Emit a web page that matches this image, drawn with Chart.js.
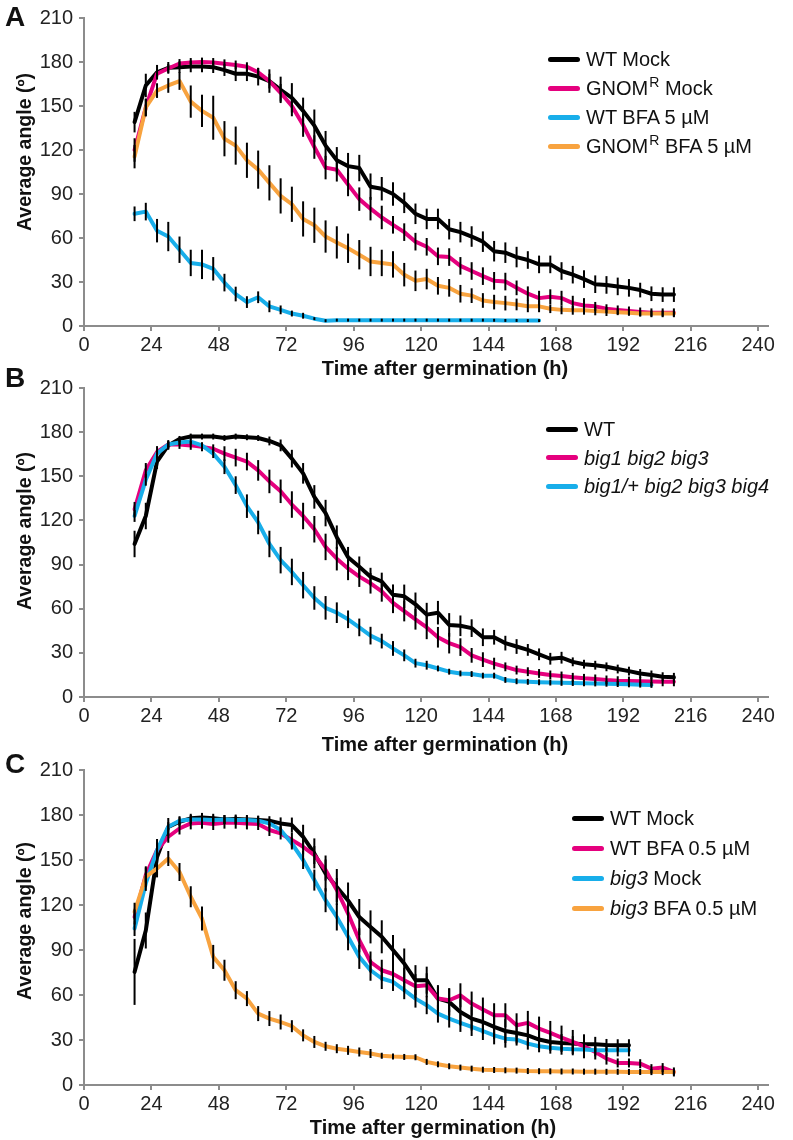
<!DOCTYPE html>
<html>
<head>
<meta charset="utf-8">
<script src="https://cdn.jsdelivr.net/npm/chart.js@4"></script>
<style>
body { margin: 0; background: #fff; font-family: "Liberation Sans", Arial, sans-serif; color: #111; }
#wrap { position: relative; width: 793px; height: 1140px; overflow: hidden; }
canvas { position: absolute; left: 0; }
.letter { position: absolute; font-weight: bold; font-size: 28px; transform: translate(-50%, -50%); }
.ytitle { position: absolute; font-weight: bold; font-size: 19.5px; white-space: nowrap; transform: translate(-50%, -50%) rotate(-90deg); }
.xtitle { position: absolute; font-weight: bold; font-size: 20px; white-space: nowrap; transform: translate(-50%, -50%); }
.legend { position: absolute; font-size: 20px; white-space: nowrap; }
.legend .row { display: flex; align-items: center; }
.legend .sw { display: inline-block; width: 32px; height: 5px; border-radius: 3px; margin-right: 6px; }
.legend sup { font-size: 14px; line-height: 0; vertical-align: baseline; position: relative; top: -7px; margin-left: 1px; }
</style>
</head>
<body>
<div id="wrap">
  <canvas id="chartA" width="793" height="370" style="top:0"></canvas>
  <canvas id="chartB" width="793" height="370" style="top:370px"></canvas>
  <canvas id="chartC" width="793" height="400" style="top:740px"></canvas>

  <div class="letter" style="left:15px;top:17px">A</div>
  <div class="letter" style="left:15px;top:378px">B</div>
  <div class="letter" style="left:15px;top:764px">C</div>

  <div class="ytitle" style="left:24px;top:152px">Average angle (º)</div>
  <div class="ytitle" style="left:24px;top:531px">Average angle (º)</div>
  <div class="ytitle" style="left:24px;top:921px">Average angle (º)</div>

  <div class="xtitle" style="left:445px;top:368px">Time after germination (h)</div>
  <div class="xtitle" style="left:445px;top:744px">Time after germination (h)</div>
  <div class="xtitle" style="left:433px;top:1127px">Time after germination (h)</div>

  <div class="legend" style="left:548px;top:45px;line-height:29px">
    <div class="row"><span class="sw" style="background:#000"></span>WT Mock</div>
    <div class="row"><span class="sw" style="background:#E5007E"></span>GNOM<sup>R</sup>&nbsp;Mock</div>
    <div class="row"><span class="sw" style="background:#18AEEA"></span>WT BFA 5 µM</div>
    <div class="row"><span class="sw" style="background:#F8A33F"></span>GNOM<sup>R</sup>&nbsp;BFA 5 µM</div>
  </div>
  <div class="legend" style="left:546px;top:415px;line-height:28.5px">
    <div class="row"><span class="sw" style="background:#000"></span>WT</div>
    <div class="row"><span class="sw" style="background:#E5007E"></span><i>big1 big2 big3</i></div>
    <div class="row"><span class="sw" style="background:#18AEEA"></span><i>big1/+ big2 big3 big4</i></div>
  </div>
  <div class="legend" style="left:572px;top:803px;line-height:30px">
    <div class="row"><span class="sw" style="background:#000"></span>WT Mock</div>
    <div class="row"><span class="sw" style="background:#E5007E"></span>WT BFA 0.5 µM</div>
    <div class="row"><span class="sw" style="background:#18AEEA"></span><i>big3</i>&nbsp;Mock</div>
    <div class="row"><span class="sw" style="background:#F8A33F"></span><i>big3</i>&nbsp;BFA 0.5 µM</div>
  </div>
</div>

<script>
// axis ticks
const xTickValues = [0, 24, 48, 72, 96, 120, 144, 168, 192, 216, 240];
const yTickValues = [0, 30, 60, 90, 120, 150, 180, 210];

// time points (h after germination)
const hours = [18, 22, 26, 30, 34, 38, 42, 46, 50, 54, 58, 62, 66, 70, 74, 78, 82, 86, 90, 94,
  98, 102, 106, 110, 114, 118, 122, 126, 130, 134, 138, 142, 146, 150, 154, 158, 162, 166, 170, 174,
  178, 182, 186, 190, 194, 198, 202, 206, 210];

// Panel A
const aWtMock = [139, 164, 173, 176, 176.5, 177, 177, 176.5, 174.5, 172, 172, 170, 167, 161, 155.6, 146.7, 136.6, 123, 113, 109,
  107.7, 95, 93.6, 90, 84, 76.5, 73, 73, 66, 64, 61, 57.5, 51, 50, 47, 45, 42, 42, 37.5, 35,
  32, 28.5, 28, 27, 26, 24.5, 22, 21.4, 21.4];
const aGnomMock = [120, 149, 172, 175.6, 179, 179.7, 180, 179.7, 178.8, 178, 176.8, 173, 167, 159, 150, 137, 122, 108, 106.5, 96.5,
  86.5, 80, 74, 69, 64, 57.5, 54, 47.5, 47, 41, 37.5, 34, 30.8, 30.3, 26, 22, 19, 20, 19, 15.6,
  14, 13.4, 11.8, 11, 10.3, 9.6, 9, 9, 9];
const aWtBfa = [76.5, 78, 65, 61, 52, 43, 42, 39, 29.6, 21.8, 16.3, 19.6, 13.4, 11, 8.5, 7, 5, 3.6, 4, 4,
  4, 4, 4, 4, 4, 4, 4, 4, 4, 4, 4, 4, 3.9, 3.8, 3.8, 3.7, 3.7];
const aGnomBfa = [115.5, 149, 160.5, 164, 167, 153, 146.7, 142, 127.7, 123, 113, 106.6, 97.6, 88.7, 83, 73, 68.7, 61, 57, 53,
  48.6, 44, 43, 42, 35, 30.8, 32, 27.4, 26, 22, 20.7, 17.4, 16.3, 15.6, 14.7, 13.4, 13.4, 11.8, 11, 10.7,
  10.7, 10.3, 9.8, 9.4, 9, 8.5, 8.5, 8.5, 8.5];
const aWtMockErr = [7, 8, 5, 4, 4, 4, 4, 4, 4, 5, 5, 6, 8, 9, 10, 9, 11, 10, 9, 9, 9, 9, 8, 8, 7, 7, 7, 7, 7, 7,
  7, 7, 7, 7, 7, 6, 6, 6, 6, 6, 6, 6, 6, 6, 6, 5, 5, 5, 5];
const aGnomMockErr = [8, 6, 3, 3, 3, 3, 3, 3, 3, 3, 3, 3, 5, 6, 7, 8, 8, 8, 8, 8, 8, 8, 8, 6, 6, 6, 6, 6, 6, 6,
  6, 6, 6, 6, 5, 5, 5, 5, 5, 5, 5, 3, 3, 3, 3, 3, 3, 3, 3];
const aWtBfaErr = [5, 6, 8, 10, 9, 9, 10, 8, 6, 5, 4, 4, 4, 3, 2, 2, 1, 1, 1, 1, 1, 1, 1, 1, 1, 1, 1, 1, 1, 1,
  1, 1, 1, 1, 1, 1, 1];
const aGnomBfaErr = [8, 6, 5, 5, 6, 11, 11, 15, 12, 13, 12, 13, 12, 12, 12, 12, 12, 11, 11, 10, 10, 10, 9, 9, 8, 7, 7, 6, 6, 6,
  5, 5, 5, 5, 4, 4, 4, 3, 3, 3, 3, 3, 3, 2, 2, 2, 2, 2, 2];

// Panel B
const bWt = [104, 123, 160, 171, 175.4, 177, 177, 177, 176, 177, 176.5, 176, 174, 171, 162, 152, 136, 125, 108.6, 95,
  88.5, 81.8, 78.5, 69.5, 68.4, 63, 56, 57.3, 49, 48.4, 46.8, 40.6, 40.6, 36.6, 34.3, 32, 29, 26, 26.7, 23.9,
  22.3, 21.6, 20.5, 19, 17.6, 16, 15, 13.8, 13.4];
const bBig123 = [127.5, 154, 166.5, 171.6, 171.6, 171, 170, 168.7, 165.4, 162.7, 160, 154, 146.5, 139.8, 130.8, 123, 114, 102, 94, 87.4,
  81.8, 77.3, 71.8, 64, 58.4, 52.8, 47.3, 40.6, 36.6, 33.9, 28.3, 25.4, 22.7, 20.5, 18.3, 17.2, 16, 15, 14.3, 13.4,
  12.7, 12.3, 11.6, 11.1, 10.9, 10.7, 10.5, 10.3, 10.3];
const bBig1234 = [123, 147.6, 165.4, 171.6, 173, 173.6, 171, 165.4, 156.5, 144, 129.7, 118.6, 104, 93, 85, 76, 67.3, 60.6, 57.3, 52.8,
  47.3, 41.7, 38, 33, 28.3, 23, 21.6, 19.4, 17.2, 16, 15.6, 14.5, 14.5, 11.6, 10.7, 10.3, 10, 9.8, 9.6, 9.5,
  9.3, 9.2, 9, 8.8, 8.6, 8.4, 8.2];
const bWtErr = [9, 9, 5, 3, 2, 2, 2, 2, 2, 2, 2, 2, 3, 4, 6, 7, 8, 9, 8, 7, 7, 6, 6, 7, 8, 8, 8, 8, 8, 7,
  6, 6, 5, 5, 5, 4, 4, 4, 4, 3, 3, 3, 3, 3, 3, 3, 3, 3, 3];
const bBig123Err = [5, 5, 4, 3, 3, 3, 3, 3, 5, 6, 6, 7, 8, 8, 9, 9, 9, 9, 8, 8, 7, 7, 7, 7, 7, 7, 8, 7, 7, 6,
  5, 5, 4, 3, 3, 3, 3, 3, 3, 3, 3, 3, 3, 3, 3, 3, 3, 3, 3];
const bBig1234Err = [4, 4, 3, 2, 2, 2, 2, 3, 5, 6, 8, 8, 9, 9, 9, 9, 8, 8, 7, 6, 6, 6, 5, 5, 4, 3, 3, 2, 2, 2,
  2, 2, 2, 2, 2, 2, 2, 2, 2, 2, 2, 2, 2, 2, 2, 2, 2];

// Panel C
const cWtMock = [75.4, 103, 152, 172, 175.5, 177.8, 178.4, 177.8, 177, 177.3, 177, 176.6, 176.2, 174.4, 173.3, 165.5, 154.4, 141, 132, 123,
  112, 105.4, 98.8, 90, 81, 69.9, 69.9, 57.6, 55.4, 48.7, 44.3, 42, 38.7, 36, 34.7, 33.1, 30.3, 28.7, 28, 27.6,
  27.1, 27.1, 26.7, 26.5, 26.5];
const cWtBfa = [112, 140, 156.6, 165.5, 171, 174.4, 174.9, 174, 174.9, 174.9, 174.4, 174, 170, 167.7, 163.3, 158.8, 153.3, 143.3, 130, 114.3,
  96.5, 82, 76.5, 74, 69.9, 65.9, 66.5, 57.6, 56.5, 59.8, 54.3, 50.3, 46.5, 46.5, 39.8, 41.4, 37.6, 34.7, 31.6, 28.7,
  25.8, 22, 17.6, 14.7, 14.7, 14.2, 10.9, 11.6, 8.7];
const cBig3Mock = [104.3, 134.4, 156.6, 172.2, 176.2, 177, 177, 176.6, 177, 176.6, 176.6, 176.2, 174.4, 170, 161, 150, 136.6, 123.2, 112, 98.8,
  85.4, 76.5, 71, 68.7, 63.2, 57.6, 53.2, 47.6, 44.3, 41.4, 38.7, 36, 33.1, 30.9, 30.3, 27.6, 25.8, 24.9, 24.2, 23.8,
  23.6, 23.1, 23.1, 23.1, 23.1];
const cBig3Bfa = [115.5, 138.8, 144.4, 151, 142, 125.5, 111, 85.4, 76.5, 63.2, 57.6, 47.6, 44.3, 42, 39.2, 33.1, 28.7, 25.8, 24.2, 23.1,
  22, 21, 19.5, 19, 18.7, 18.5, 15.4, 13.8, 12.5, 11.6, 10.9, 10.2, 10, 9.8, 9.6, 9.3, 9.2, 9.1, 9, 9,
  8.9, 8.9, 8.8, 8.8, 8.7, 8.7, 8.6, 8.6, 8.6];
const cWtMockErr = [22, 12, 12, 6, 3, 3, 3, 3, 3, 3, 3, 3, 3, 4, 5, 8, 10, 12, 12, 12, 12, 11, 11, 10, 10, 10, 9, 9, 9, 9,
  8, 8, 8, 8, 7, 7, 6, 6, 6, 5, 5, 5, 4, 4, 4];
const cWtBfaErr = [5, 5, 5, 4, 4, 4, 4, 4, 4, 4, 4, 4, 4, 4, 5, 5, 6, 7, 8, 8, 8, 7, 7, 7, 8, 8, 8, 8, 8, 8,
  8, 8, 8, 8, 8, 8, 8, 8, 8, 8, 8, 5, 4, 3, 3, 3, 3, 3, 3];
const cBig3MockErr = [5, 5, 5, 3, 3, 3, 3, 3, 3, 3, 3, 3, 3, 3, 4, 6, 7, 8, 9, 9, 8, 7, 7, 6, 6, 6, 6, 6, 6, 6,
  6, 6, 6, 6, 4, 4, 4, 4, 4, 4, 4, 4, 4, 4, 4];
const cBig3BfaErr = [6, 7, 6, 5, 6, 7, 8, 8, 7, 6, 5, 5, 5, 5, 4, 4, 4, 3, 3, 3, 3, 3, 2, 2, 2, 2, 2, 2, 2, 2,
  2, 2, 2, 2, 2, 2, 2, 2, 2, 2, 2, 2, 2, 2, 2, 2, 2, 2, 2];

const BLACK = '#000000', PINK = '#E5007E', CYAN = '#18AEEA', ORANGE = '#F8A33F';
const AXIS = '#8c8c8c';

// vertical black error bars, drawn through the chart's own scales
const errorBars = {
  id: 'errorBars',
  afterDatasetsDraw(chart) {
    const ctx = chart.ctx, xs = chart.scales.x, ys = chart.scales.y;
    ctx.save();
    ctx.strokeStyle = '#000';
    ctx.lineWidth = 2;
    chart.data.datasets.forEach(ds => {
      ds.data.forEach((p, i) => {
        const e = ds.err[i];
        const px = xs.getPixelForValue(p.x);
        ctx.beginPath();
        ctx.moveTo(px, ys.getPixelForValue(p.y + e));
        ctx.lineTo(px, ys.getPixelForValue(p.y - e));
        ctx.stroke();
      });
    });
    ctx.restore();
  }
};

const tickFont = { family: 'Liberation Sans', size: 20 };

function buildChart(id, series, padTop, xHeight) {
  new Chart(document.getElementById(id), {
    type: 'line',
    data: {
      datasets: series.map((s, i) => ({
        label: s.label,
        data: s.values.map((v, j) => ({ x: hours[j], y: v })),
        err: s.err,
        borderColor: s.color,
        borderWidth: 4,
        borderJoinStyle: 'round',
        borderCapStyle: 'round',
        pointRadius: 0,
        tension: 0,
        fill: false,
        order: -i
      }))
    },
    options: {
      responsive: false,
      animation: false,
      layout: { padding: { top: padTop, right: 25, left: 0, bottom: 0 } },
      plugins: { legend: { display: false }, tooltip: { enabled: false } },
      scales: {
        x: {
          type: 'linear',
          min: 0,
          max: 243.5,
          afterBuildTicks: scale => { scale.ticks = xTickValues.map(v => ({ value: v })); },
          afterFit: scale => { scale.height = xHeight; },
          ticks: { padding: 2, color: '#222', font: tickFont, maxRotation: 0, autoSkip: false },
          grid: { drawOnChartArea: false, drawTicks: true, tickLength: 5, color: AXIS, lineWidth: 2 },
          border: { color: AXIS, width: 2 }
        },
        y: {
          min: 0,
          max: 210,
          afterBuildTicks: scale => { scale.ticks = yTickValues.map(v => ({ value: v })); },
          afterFit: scale => { scale.width = 84; },
          ticks: { padding: 6, color: '#222', font: tickFont, autoSkip: false },
          grid: { drawOnChartArea: false, drawTicks: true, tickLength: 5, color: AXIS, lineWidth: 2 },
          border: { color: AXIS, width: 2 }
        }
      }
    },
    plugins: [errorBars]
  });
}

buildChart('chartA', [
  { label: 'WT Mock', values: aWtMock, err: aWtMockErr, color: BLACK },
  { label: 'GNOMR Mock', values: aGnomMock, err: aGnomMockErr, color: PINK },
  { label: 'WT BFA 5 µM', values: aWtBfa, err: aWtBfaErr, color: CYAN },
  { label: 'GNOMR BFA 5 µM', values: aGnomBfa, err: aGnomBfaErr, color: ORANGE }
], 12, 44);

buildChart('chartB', [
  { label: 'WT', values: bWt, err: bWtErr, color: BLACK },
  { label: 'big1 big2 big3', values: bBig123, err: bBig123Err, color: PINK },
  { label: 'big1/+ big2 big3 big4', values: bBig1234, err: bBig1234Err, color: CYAN }
], 13, 43);

buildChart('chartC', [
  { label: 'WT Mock', values: cWtMock, err: cWtMockErr, color: BLACK },
  { label: 'WT BFA 0.5 µM', values: cWtBfa, err: cWtBfaErr, color: PINK },
  { label: 'big3 Mock', values: cBig3Mock, err: cBig3MockErr, color: CYAN },
  { label: 'big3 BFA 0.5 µM', values: cBig3Bfa, err: cBig3BfaErr, color: ORANGE }
], 30, 55);
</script>
</body>
</html>
